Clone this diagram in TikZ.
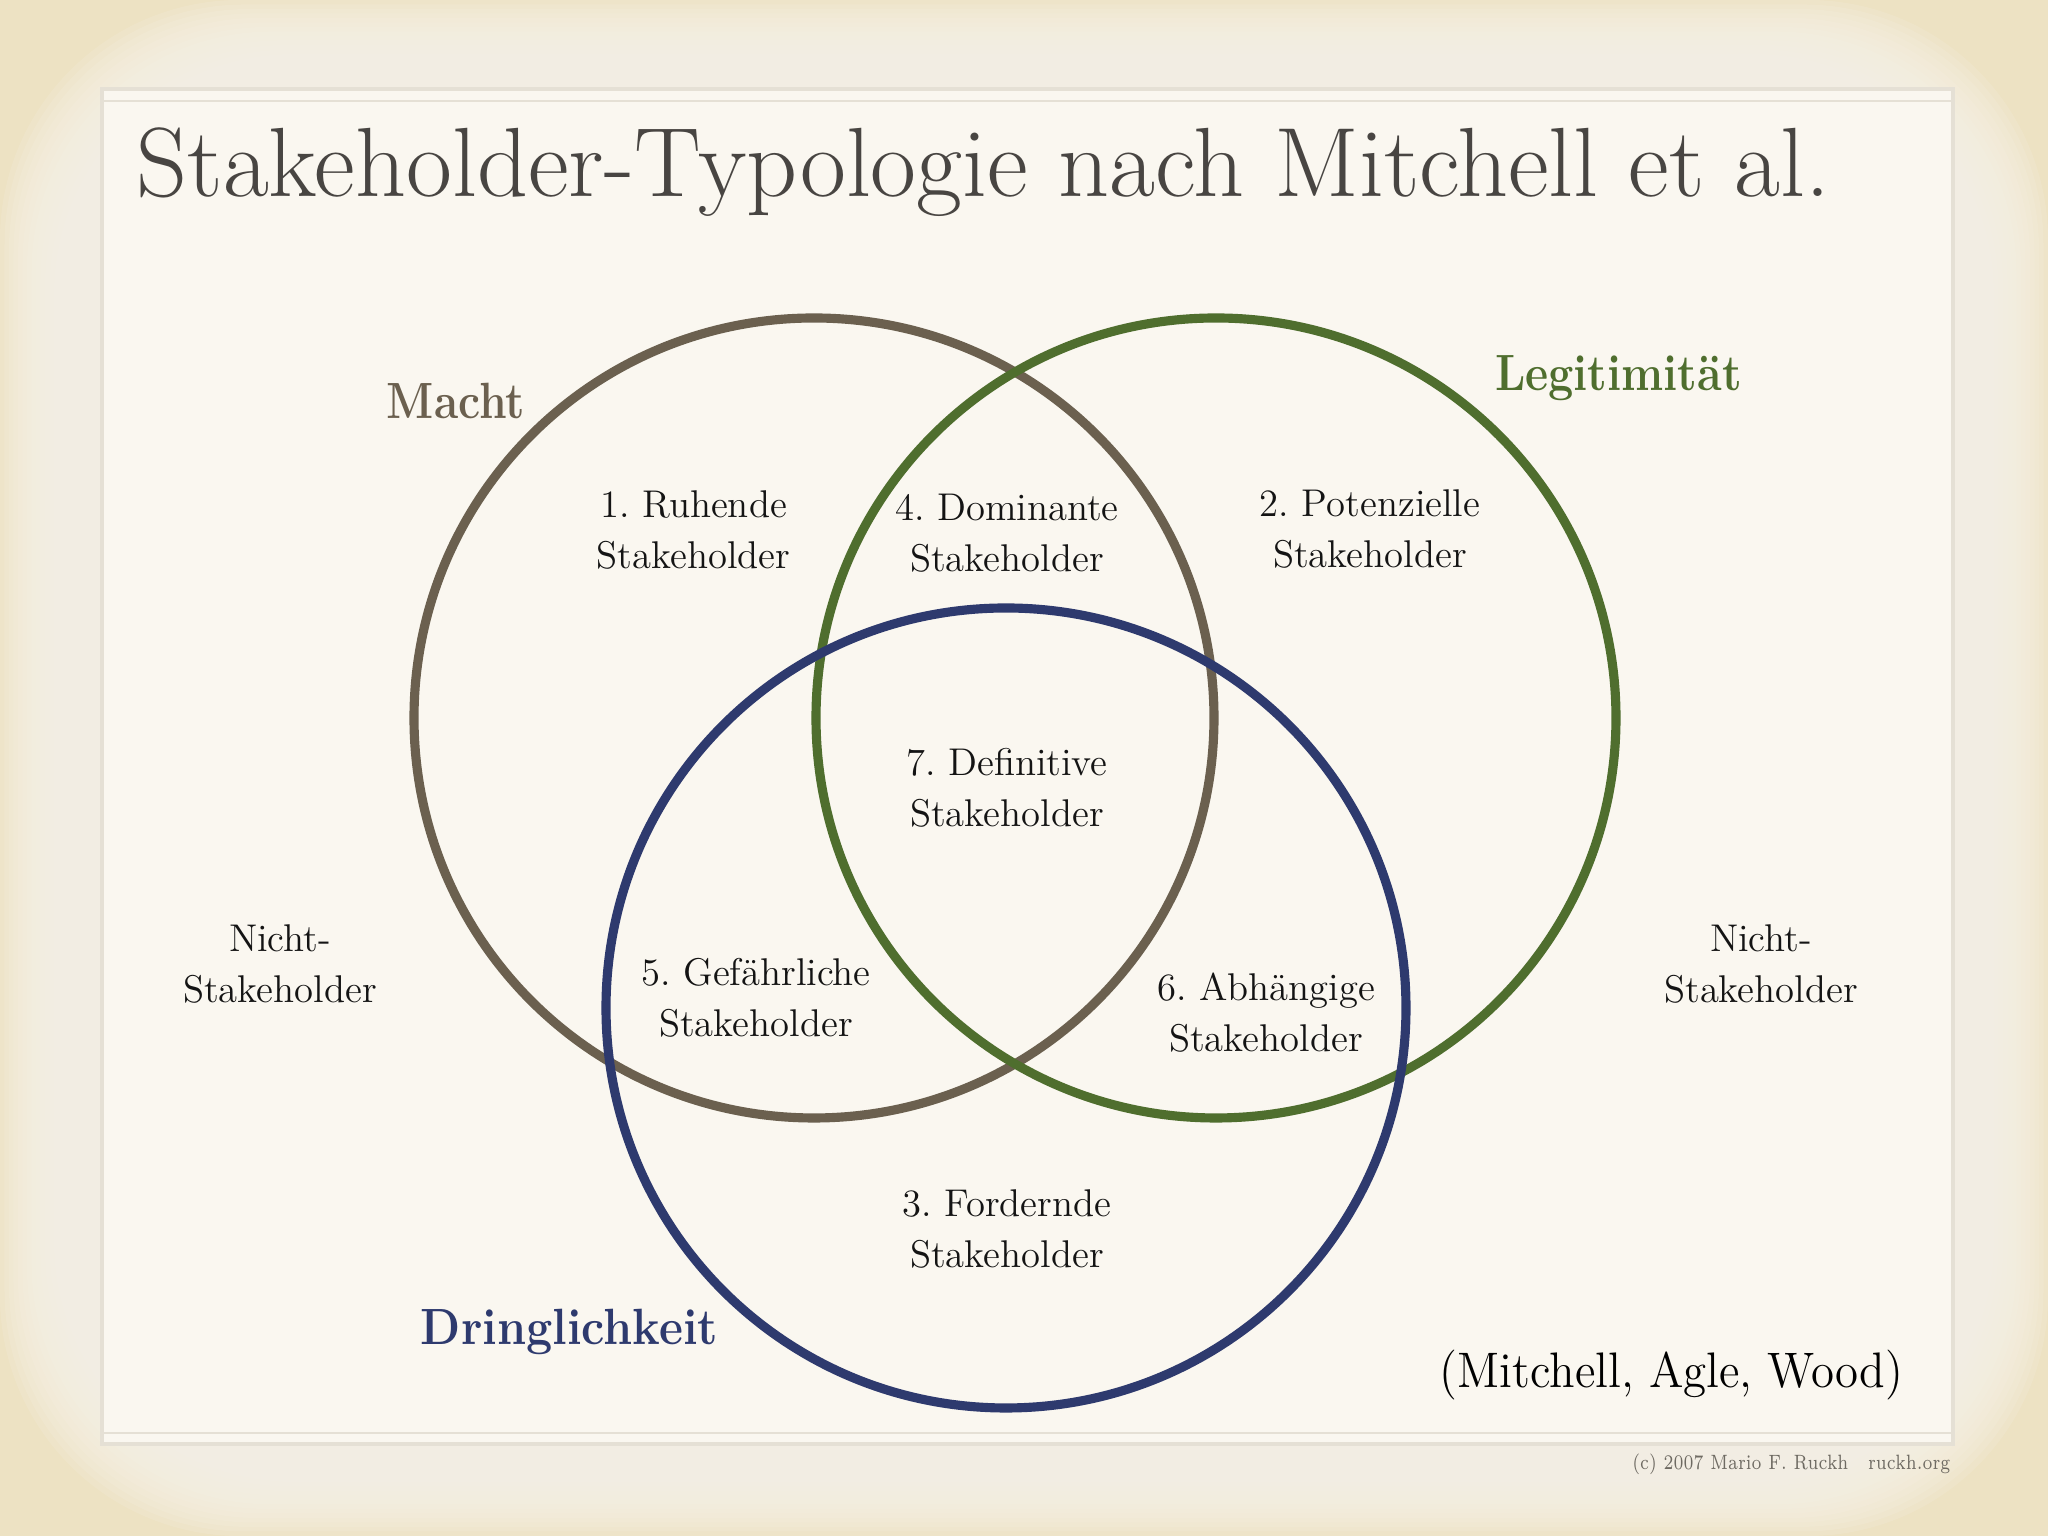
\documentclass[tikz,border=0pt]{standalone}
\usepackage{graphicx}
\usetikzlibrary{positioning}

\definecolor{paper}{HTML}{F8F3E9}
\definecolor{paperedge}{HTML}{EDE2C3}
\definecolor{framegray}{HTML}{E5E0D5}
\definecolor{machtbrown}{HTML}{6B604F}
\definecolor{legitgreen}{HTML}{4F6E2E}
\definecolor{dringblue}{HTML}{2E3A6E}
\definecolor{titlegray}{HTML}{484542}
\definecolor{notegray}{HTML}{6E6A62}

\frenchspacing

\begin{document}
\begin{tikzpicture}[
  region/.style={align=center, text=black!92, inner sep=0pt, font=\fontsize{11}{14.5}\selectfont},
  setname/.style={anchor=base, inner sep=0pt, font=\fontsize{14.5}{17}\selectfont\bfseries},
  ring/.style={line width=2.6pt}]

\newcommand{\fitw}[2]{\resizebox{#1}{\height}{#2}}

% paper, a bit darker towards the edges
\useasboundingbox (0,0) rectangle (20.48,15.36);
\fill[paperedge] (0,0) rectangle (20.48,15.36);
\foreach \i in {0,...,19}
  \fill[paper, opacity=0.16, rounded corners=2.4cm] ({0.045*\i},{0.045*\i}) rectangle ({20.48-0.045*\i},{15.36-0.045*\i});

% frame round the slide
\fill[paper!70!white] (1.02,0.92) rectangle (19.53,14.47);
\draw[framegray, line width=0.9pt] (1.02,0.92) rectangle (19.53,14.47);
\draw[framegray, line width=0.7pt] (1.02,14.35) -- (19.53,14.35);
\draw[framegray, line width=0.7pt] (1.02,1.03) -- (19.53,1.03);

% title
\node[anchor=base west, inner sep=0pt, text=titlegray, font=\fontsize{28}{34}\selectfont] (title) at (1.36,13.39)
  {\fitw{16.94cm}{Stakeholder-Typologie nach Mitchell et al.}};

% the three circles
\draw[ring, machtbrown] (8.14,8.18) circle (4.0);
\draw[ring, legitgreen] (12.16,8.18) circle (4.0);
\draw[ring, dringblue] (10.06,5.28) circle (4.0);

% names of the circles
\node[setname, text=machtbrown] (macht) at (4.56,11.17) {\fitw{1.38cm}{Macht}};
\node[setname, text=legitgreen] (legit) at (16.185,11.45) {\fitw{2.47cm}{Legitimität}};
\node[setname, text=dringblue] (dring) at (5.695,1.91) {\fitw{2.97cm}{Dringlichkeit}};

% the seven types
\node[region] (ruhend) at (6.935,10.06) {1. Ruhende\\Stakeholder};
\node[region] (dominant) at (10.07,10.03) {4. Dominante\\Stakeholder};
\node[region] (potenz) at (13.70,10.07) {2. Potenzielle\\Stakeholder};
\node[region] (definit) at (10.07,7.48) {7. Definitive\\Stakeholder};
\node[region] (gefahr) at (7.56,5.38) {5. Gefährliche\\Stakeholder};
\node[region] (abhaeng) at (12.66,5.23) {6. Abhängige\\Stakeholder};
\node[region] (fordernd) at (10.07,3.07) {3. Fordernde\\Stakeholder};

% outside of all circles
\node[region] (nichtl) at (2.80,5.72) {Nicht-\\Stakeholder};
\node[region] (nichtr) at (17.61,5.72) {Nicht-\\Stakeholder};

% source
\node[anchor=base, inner sep=0pt, text=black, font=\fontsize{14.2}{17}\selectfont] (quelle) at (16.715,1.48)
  {\fitw{4.63cm}{(Mitchell, Agle, Wood)}};
\node[anchor=base east, inner sep=0pt, text=notegray, font=\fontsize{5.9}{7}\selectfont] (copy) at (19.51,0.66)
  {\fitw{3.18cm}{(c) 2007 Mario F. Ruckh\hspace{1.2em}ruckh.org}};

\end{tikzpicture}
\end{document}
